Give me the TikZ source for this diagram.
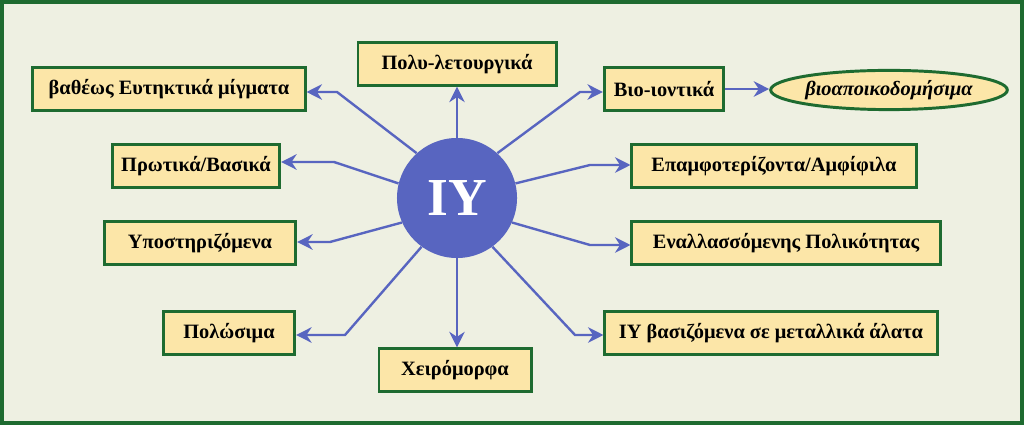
\documentclass[tikz,border=0pt]{standalone}
\usepackage{fontspec}
\setmainfont{Liberation Serif}
\usetikzlibrary{arrows.meta,shapes.geometric}
\definecolor{bg}{HTML}{EEF0E2}
\definecolor{dg}{HTML}{1E6B30}
\definecolor{bx}{HTML}{FCE6A8}
\definecolor{bl}{HTML}{5865C0}
\begin{document}
\begin{tikzpicture}[x=0.025cm,y=-0.025cm,
 box/.style={draw=dg,line width=2.1pt,fill=bx,minimum height=1.06cm,inner sep=0pt,font=\fontsize{14.5}{17}\selectfont\bfseries},
 arr/.style={draw=bl,line width=1.7pt,-{Stealth[length=11pt,width=11pt]}}]
\fill[bg] (0,0) rectangle (1024,425);
\draw[dg,line width=2.6pt] (2,2) rectangle (1022,423);
\node[circle,fill=bl,minimum size=3cm,inner sep=0pt,text=white,font=\fontsize{38}{42}\selectfont\bfseries] (c) at (457,198) {ΙΥ};
\node[box,minimum width=6.8cm] (a) at (169,89) {βαθέως Ευτηκτικά μίγματα};
\node[box,minimum width=4.95cm] (b) at (457,64) {Πολυ-λετουργικά};
\node[box,minimum width=2.98cm] (d) at (664,89) {Βιο-ιοντικά};
\node[ellipse,draw=dg,line width=2.1pt,fill=bx,minimum width=5.65cm,minimum height=0.98cm,inner sep=0pt,font=\fontsize{14.5}{17}\selectfont\bfseries\itshape] (e) at (889,90) {βιοαποικοδομήσιμα};
\node[box,minimum width=4.18cm] (f) at (196,166) {Πρωτικά/Βασικά};
\node[box,minimum width=7.1cm] (g) at (774,166) {Επαμφοτερίζοντα/Αμφίφιλα};
\node[box,minimum width=4.78cm] (h) at (200,243) {Υποστηριζόμενα};
\node[box,minimum width=7.7cm] (i) at (786,243) {Εναλλασσόμενης Πολικότητας};
\node[box,minimum width=3.28cm] (j) at (229,333) {Πολώσιμα};
\node[box,minimum width=3.8cm] (k) at (455,370) {Χειρόμορφα};
\node[box,minimum width=8.3cm] (l) at (771,333) {ΙΥ βασιζόμενα σε μεταλλικά άλατα};
\coordinate (pa) at (337,92); \coordinate (pf) at (334,162);
\coordinate (ph) at (330,242); \coordinate (pj) at (345,335);
\coordinate (pd) at (580,92); \coordinate (pg) at (590,165);
\coordinate (pi) at (590,245); \coordinate (pl) at (575,335);
\draw[arr] (c.132) -- (pa) -- (pa-|a.east);
\draw[arr] (c.166) -- (pf) -- (pf-|f.east);
\draw[arr] (c.204) -- (ph) -- (ph-|h.east);
\draw[arr] (c.234) -- (pj) -- (pj-|j.east);
\draw[arr] (c.48) -- (pd) -- (pd-|d.west);
\draw[arr] (c.14) -- (pg) -- (pg-|g.west);
\draw[arr] (c.336) -- (pi) -- (pi-|i.west);
\draw[arr] (c.306) -- (pl) -- (pl-|l.west);
\draw[arr] (c.north) -- (c.north|-b.south);
\draw[arr] (c.south) -- (c.south|-k.north);
\draw[arr] (d.east) -- (d.east-|e.west);
\end{tikzpicture}
\end{document}
